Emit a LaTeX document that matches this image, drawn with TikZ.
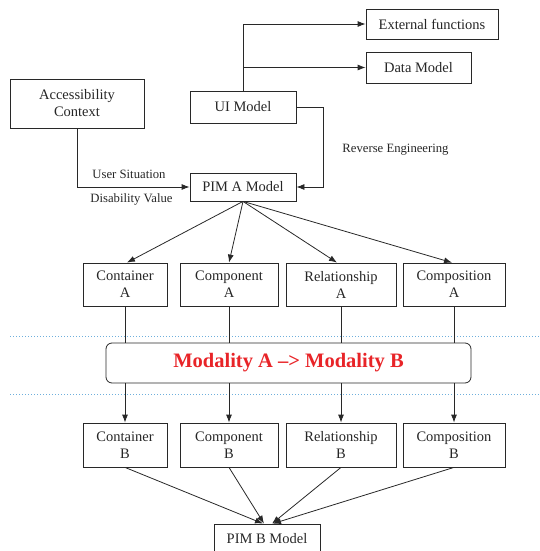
\documentclass[tikz,border=0pt]{standalone}
\usepackage{fontspec}
\setmainfont{Liberation Serif}
\usetikzlibrary{arrows.meta}
\definecolor{ln}{RGB}{40,40,40}
\definecolor{modred}{RGB}{232,36,40}
\definecolor{dotblue}{RGB}{110,175,220}
\tikzset{
  box/.style={draw=ln, line width=0.8pt, rectangle, align=center, inner sep=0pt,
    font=\fontsize{14.5}{17}\selectfont, text=black!85},
  lbl/.style={font=\fontsize{12.7}{15}\selectfont, text=black!85, inner sep=0pt},
  conn/.style={draw=ln, line width=0.8pt},
  arr/.style={conn, -{Latex[length=8pt,width=6pt]}},
  sep/.style={draw=dotblue, line width=1pt, dotted}
}
\begin{document}
\begin{tikzpicture}[x=1pt,y=-1pt]
\useasboundingbox (0,0) rectangle (540,551);
\begin{scope}
\clip (0,0) rectangle (540,551);
% top
\node[box, minimum width=132, minimum height=30] (ext) at (432,24) {External functions};
\node[box, minimum width=105, minimum height=31] (data) at (418.5,67.5) {Data Model};
\node[box, minimum width=106, minimum height=32] (ui) at (243,107) {UI Model};
\node[box, minimum width=134, minimum height=49] (acc) at (77,103.5) {Accessibility\\Context};
\node[box, minimum width=106, minimum height=28] (pima) at (243,187) {PIM A Model};
\node[lbl] (us) at (129,174) {User Situation};
\node[lbl] (dv) at (131.5,199) {Disability Value};
\node[lbl] (re) at (395.5,150) {Reverse Engineering};
% A row
\node[box, minimum width=84, minimum height=43] (cA) at (125,284.5) {Container\\A};
\node[box, minimum width=98, minimum height=43] (coA) at (229,284.5) {Component\\A};
\node[box, minimum width=110, minimum height=43] (rA) at (341,284.5) {Relationship\\A};
\node[box, minimum width=102, minimum height=43] (cpA) at (454,284.5) {Composition\\A};
% modality
\node[draw=ln, line width=0.8pt, rounded corners=6pt, minimum width=365, minimum height=40,
  inner sep=0pt, font=\fontsize{20.5}{24}\selectfont\bfseries, text=modred] (mod) at (288.5,363)
  {Modality A --> Modality B};
% B row
\node[box, minimum width=84, minimum height=44] (cB) at (125,445) {Container\\B};
\node[box, minimum width=98, minimum height=44] (coB) at (229,445) {Component\\B};
\node[box, minimum width=110, minimum height=44] (rB) at (341,445) {Relationship\\B};
\node[box, minimum width=102, minimum height=44] (cpB) at (454,445) {Composition\\B};
\node[box, minimum width=106, minimum height=30] (pimb) at (267,539) {PIM B Model};
% separators
\coordinate (s1a) at (10,336); \coordinate (s1b) at (540,336);
\coordinate (s2a) at (10,394); \coordinate (s2b) at (540,394);
\draw[sep] (s1a) -- (s1b);
\draw[sep] (s2a) -- (s2b);
% connectors top
\draw[arr] (ui.north) |- (ext.west);
\draw[arr] (ui.north |- data.west) -- (data.west);
\draw[arr] (ui.east) -- ++(27,0) |- (pima.east);
\draw[arr] (acc.south) |- (pima.west);
% PIM A to A row
\draw[arr] (pima.south) -- ([xshift=2]cA.north);
\draw[arr] (pima.south) -- (coA.north);
\draw[arr] (pima.south) -- ([xshift=-4]rA.north);
\draw[arr] (pima.south) -- ([xshift=-2]cpA.north);
% A row to modality
\foreach \n in {cA,coA,rA,cpA} {
  \draw[conn] (\n.south) -- (\n.south |- mod.north);
}
% modality to B row
\foreach \a/\b in {cA/cB,coA/coB,rA/rB,cpA/cpB} {
  \draw[arr] (\a.south |- mod.south) -- (\b.north);
}
% B row to PIM B
\draw[arr] (cB.south) -- ([xshift=-4]pimb.north);
\draw[arr] (coB.south) -- ([xshift=-3]pimb.north);
\draw[arr] (rB.south) -- ([xshift=5]pimb.north);
\draw[arr] (cpB.south) -- ([xshift=6]pimb.north);
\end{scope}
\end{tikzpicture}
\end{document}
